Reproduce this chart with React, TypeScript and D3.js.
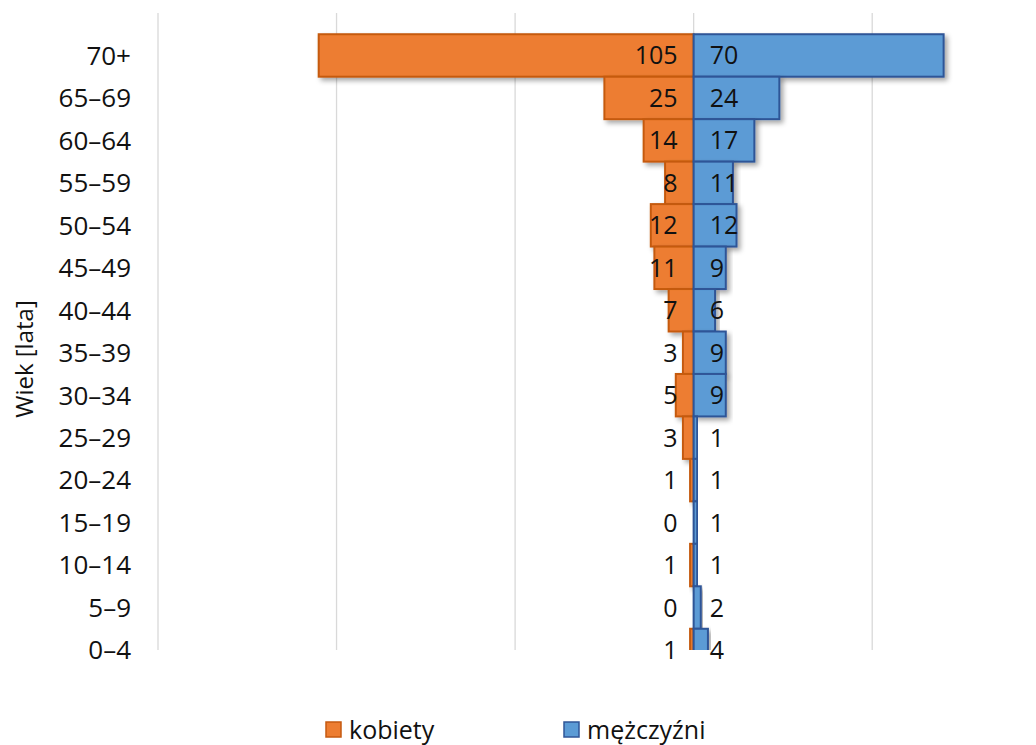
import React from "react";
import * as d3 from "d3";

const categories = ["70+", "65–69", "60–64", "55–59", "50–54", "45–49", "40–44", "35–39", "30–34", "25–29", "20–24", "15–19", "10–14", "5–9", "0–4"];
const women = [105, 25, 14, 8, 12, 11, 7, 3, 5, 3, 1, 0, 1, 0, 1];
const men = [70, 24, 17, 11, 12, 9, 6, 9, 9, 1, 1, 1, 1, 2, 4];
const gridTicks = [-150, -100, -50, 0, 50];
const seriesNames = ["kobiety", "mężczyźni"];
const yTitle = "Wiek [lata]";

const W = 1036;
const H = 745;
const plotTop = 13;
const plotBottom = 650;
const FONT = "'Open Sans', sans-serif";

export default function App() {
  const x = d3.scaleLinear().domain([-150, 100]).range([158, 158 + 250 * 3.571]);
  const step = (plotBottom - plotTop) / 15;
  const y = d3.scaleLinear().domain([-1, 14]).range([plotTop, plotTop + step * 15]);
  const bh = step;
  const x0 = x(0);

  const orangeFill = "#ED7D31";
  const orangeStroke = "#C55A11";
  const blueFill = "#5B9BD5";
  const blueStroke = "#2F5597";
  const textColor = "#111";

  return (
    <svg width={W} height={H} style={{ display: "block", position: "absolute", left: 0, top: 0 }} fontFamily={FONT}>
      <defs>
        <clipPath id="plotClip">
          <rect x={0} y={plotTop} width={W} height={plotBottom - plotTop} />
        </clipPath>
        <filter id="shadow" x="-20%" y="-20%" width="140%" height="160%">
          <feDropShadow dx="3" dy="3" stdDeviation="2.5" floodColor="#000" floodOpacity="0.35" />
        </filter>
      </defs>
      <rect width={W} height={H} fill="#fff" />
      {gridTicks.map((t) => (
        <line key={t} x1={x(t)} x2={x(t)} y1={plotTop} y2={plotBottom} stroke="#D9D9D9" strokeWidth={1.3} />
      ))}
      <g clipPath="url(#plotClip)">
        {categories.map((c, i) => (
          <rect
            key={"w" + c}
            x={x(-women[i])}
            y={y(i) - bh / 2}
            width={x0 - x(-women[i])}
            height={bh}
            fill={orangeFill}
            stroke={orangeStroke}
            strokeWidth={2}
            filter="url(#shadow)"
          />
        ))}
        {categories.map((c, i) => (
          <rect
            key={"m" + c}
            x={x0}
            y={y(i) - bh / 2}
            width={x(men[i]) - x0}
            height={bh}
            fill={blueFill}
            stroke={blueStroke}
            strokeWidth={2}
            filter="url(#shadow)"
          />
        ))}
      </g>
      {categories.map((c, i) => (
        <g key={"l" + c} fill={textColor}>
          <text x={x0 - 16} y={y(i)} dy="0.36em" textAnchor="end" fontSize={25}>{women[i]}</text>
          <text x={x0 + 16} y={y(i)} dy="0.36em" textAnchor="start" fontSize={25}>{men[i]}</text>
          <text x={131} y={y(i)} dy="0.36em" textAnchor="end" fontSize={26}>{c}</text>
        </g>
      ))}
      <text
        transform={`translate(33,359) rotate(-90)`}
        textAnchor="middle"
        fontSize={24}
        fill={textColor}
      >
        {yTitle}
      </text>
      <g fontSize={25} fill={textColor}>
        <rect x={326} y={722} width={15} height={15} fill={orangeFill} stroke={orangeStroke} strokeWidth={1.5} />
        <text x={349} y={730} dy="0.36em">{seriesNames[0]}</text>
        <rect x={564} y={722} width={15} height={15} fill={blueFill} stroke={blueStroke} strokeWidth={1.5} />
        <text x={587} y={730} dy="0.36em">{seriesNames[1]}</text>
      </g>
    </svg>
  );
}
